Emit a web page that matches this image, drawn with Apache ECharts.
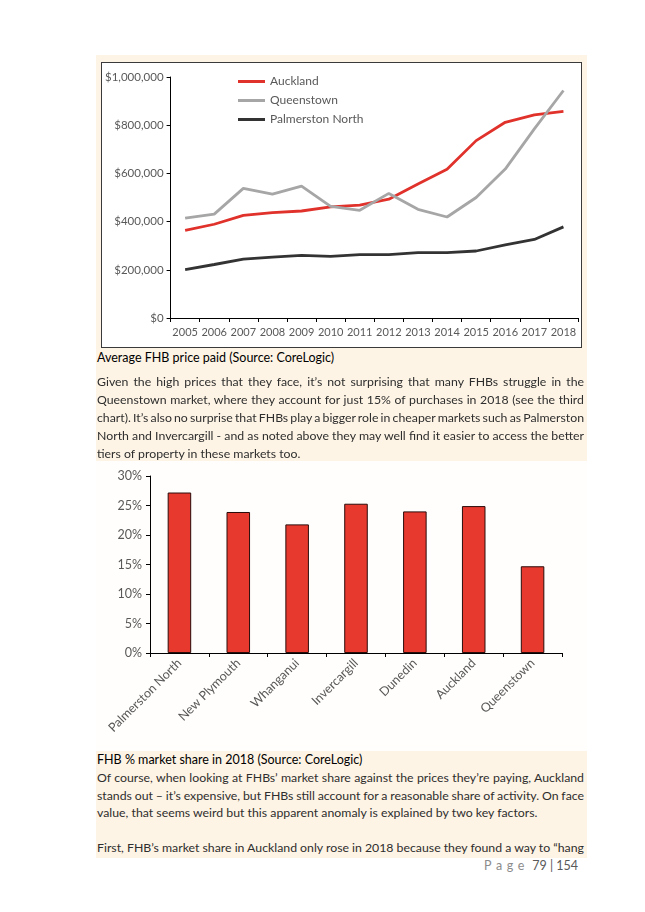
<!DOCTYPE html>
<html>
<head>
<meta charset="utf-8">
<script src="https://cdn.jsdelivr.net/npm/echarts@6/dist/echarts.min.js"></script>
<style>
  html, body { margin: 0; padding: 0; background: #ffffff; }
  #page { position: relative; width: 645px; height: 912px; overflow: hidden; background: #ffffff; font-family: Lato, "Open Sans", sans-serif; }
  .cream { position: absolute; background: #FEF4E5; }
  #c1box { position: absolute; left: 101px; top: 62px; width: 479px; height: 284px; border: 1.5px solid #3a3a3a; background: #ffffff; }
  #c1 { width: 100%; height: 100%; }
  #c2 { position: absolute; left: 96px; top: 461px; width: 491px; height: 290px; background: #FFFEFC; }
  .txt { position: absolute; left: 97px; width: 487px; font-size: 12.3px; color: #2e2e2e; }
  .ln { position: absolute; left: 0; white-space: nowrap; height: 18px; line-height: 18px; }
  .ln span { display: inline-block; white-space: nowrap; }
  .cap { position: absolute; left: 97px; font-size: 12.5px; color: #000; white-space: nowrap; line-height: 18px; }
  #footer { position: absolute; right: 67px; top: 857px; font-size: 12.5px; color: #595959; white-space: nowrap; line-height: 18px; }
  #footer .pg { color: #8c8c8c; letter-spacing: 4.6px; }
</style>
</head>
<body>
<div id="page">
  <div class="cream" style="left:96px; top:55px; width:491px; height:406px;"></div>
  <div class="cream" style="left:96px; top:750px; width:491px; height:108px;"></div>
  <div id="c1box"><div id="c1"></div></div>
  <div id="c2"></div>

  <div class="cap" style="top:349px;">Average FHB price paid (Source: CoreLogic)</div>
  <div class="txt" id="p1" style="top:373px;"></div>

  <div class="cap" style="top:751px;">FHB % market share in 2018 (Source: CoreLogic)</div>
  <div class="txt" id="p2" style="top:769px;"></div>

  <div id="footer"><span class="pg">Page</span> 79 | 154</div>
</div>
<script>
// ---------- Data ----------
const years = ['2005','2006','2007','2008','2009','2010','2011','2012','2013','2014','2015','2016','2017','2018'];
const auckland   = [364000, 389000, 426000, 437000, 444000, 461000, 468000, 493000, 556000, 617000, 736000, 812000, 843000, 857000];
const queenstown = [414000, 431000, 538000, 514000, 547000, 463000, 447000, 517000, 451000, 419000, 500000, 618000, 785000, 944000];
const palmerston = [201000, 222000, 244000, 253000, 260000, 256000, 263000, 263000, 271000, 271000, 278000, 303000, 326000, 378000];
const priceTicks = { min: 0, max: 1000000, interval: 200000 };

const towns = ['Palmerston North','New Plymouth','Whanganui','Invercargill','Dunedin','Auckland','Queenstown'];
const share = [27.2, 23.9, 21.8, 25.3, 24.0, 24.9, 14.7];
const shareTicks = { min: 0, max: 30, interval: 5 };

const para1 = [
  'Given the high prices that they face, it’s not surprising that many FHBs struggle in the',
  'Queenstown market, where they account for just 15% of purchases in 2018 (see the third',
  'chart). It’s also no surprise that FHBs play a bigger role in cheaper markets such as Palmerston',
  'North and Invercargill - and as noted above they may well find it easier to access the better',
  'tiers of property in these markets too.'
];
const para1Justify = [true, true, true, true, false];
const para2 = [
  'Of course, when looking at FHBs’ market share against the prices they’re paying, Auckland',
  'stands out – it’s expensive, but FHBs still account for a reasonable share of activity. On face',
  'value, that seems weird but this apparent anomaly is explained by two key factors.',
  '',
  'First, FHB’s market share in Auckland only rose in 2018 because they found a way to “hang'
];
const para2Justify = [true, true, false, false, true];

// ---------- Text ----------
function buildPara(id, lines, just, lh) {
  const box = document.getElementById(id);
  const W = 487;
  lines.forEach((t, i) => {
    const d = document.createElement('div');
    d.className = 'ln';
    d.style.top = (i * lh) + 'px';
    const s = document.createElement('span');
    s.textContent = t;
    d.appendChild(s);
    box.appendChild(d);
    if (just[i]) {
      const w = s.getBoundingClientRect().width;
      const n = (t.match(/ /g) || []).length;
      if (n > 0) s.style.wordSpacing = ((W - w) / n) + 'px';
    }
  });
}
buildPara('p1', para1, para1Justify, 18);
buildPara('p2', para2, para2Justify, 17.6);

// ---------- Chart 1 ----------
const font = 'Lato, "Open Sans", sans-serif';
const grey = '#595959';
const c1 = echarts.init(document.getElementById('c1'), null, { renderer: 'canvas' });
c1.setOption({
  animation: false,
  textStyle: { fontFamily: font },
  grid: { left: 67, top: 14, right: 3, bottom: 29 },
  legend: {
    orient: 'vertical', left: 136, top: 11, itemGap: 4, padding: 0,
    icon: 'rect', itemWidth: 27, itemHeight: 3,
    textStyle: { color: grey, fontSize: 12, fontFamily: font, lineHeight: 15 },
    data: ['Auckland', 'Queenstown', 'Palmerston North']
  },
  xAxis: {
    type: 'category', data: years, boundaryGap: true,
    axisLine: { lineStyle: { color: '#000', width: 1 } },
    axisTick: { show: true, length: 4, lineStyle: { color: '#000' } },
    axisLabel: { color: grey, fontSize: 11, margin: 9, fontFamily: font, interval: 0 }
  },
  yAxis: {
    type: 'value', min: priceTicks.min, max: priceTicks.max, interval: priceTicks.interval,
    axisLine: { show: true, lineStyle: { color: '#000', width: 1 } },
    axisTick: { show: true, length: 4, lineStyle: { color: '#000' } },
    splitLine: { show: false },
    axisLabel: {
      color: grey, fontSize: 11.5, margin: 7, fontFamily: font,
      formatter: v => '$' + v.toLocaleString('en-US')
    }
  },
  series: [
    { name: 'Auckland', type: 'line', data: auckland, symbol: 'none', z: 3,
      lineStyle: { color: '#E0312B', width: 2.8 }, itemStyle: { color: '#E0312B' } },
    { name: 'Queenstown', type: 'line', data: queenstown, symbol: 'none', z: 4,
      lineStyle: { color: '#A6A6A6', width: 2.8 }, itemStyle: { color: '#A6A6A6' } },
    { name: 'Palmerston North', type: 'line', data: palmerston, symbol: 'none', z: 3,
      lineStyle: { color: '#333333', width: 2.8 }, itemStyle: { color: '#333333' } }
  ]
});

// ---------- Chart 2 ----------
const c2 = echarts.init(document.getElementById('c2'), null, { renderer: 'canvas' });
c2.setOption({
  animation: false,
  textStyle: { fontFamily: font },
  grid: { left: 54, top: 15, right: 25, bottom: 98 },
  xAxis: {
    type: 'category', data: towns, boundaryGap: true,
    axisLine: { lineStyle: { color: '#000', width: 1 } },
    axisTick: { show: true, length: 4, lineStyle: { color: '#000' } },
    axisLabel: { color: grey, fontSize: 12.5, rotate: 45, margin: 8, fontFamily: font, interval: 0 }
  },
  yAxis: {
    type: 'value', min: shareTicks.min, max: shareTicks.max, interval: shareTicks.interval,
    axisLine: { show: true, lineStyle: { color: '#000', width: 1 } },
    axisTick: { show: true, length: 4, lineStyle: { color: '#000' } },
    splitLine: { show: false },
    axisLabel: { color: grey, fontSize: 12.5, margin: 8, fontFamily: font, formatter: '{value}%' }
  },
  series: [
    { type: 'bar', data: share, barWidth: '40%',
      itemStyle: { color: '#E8392F', borderColor: '#2b0c0a', borderWidth: 1 } }
  ]
});
</script>
</body>
</html>
